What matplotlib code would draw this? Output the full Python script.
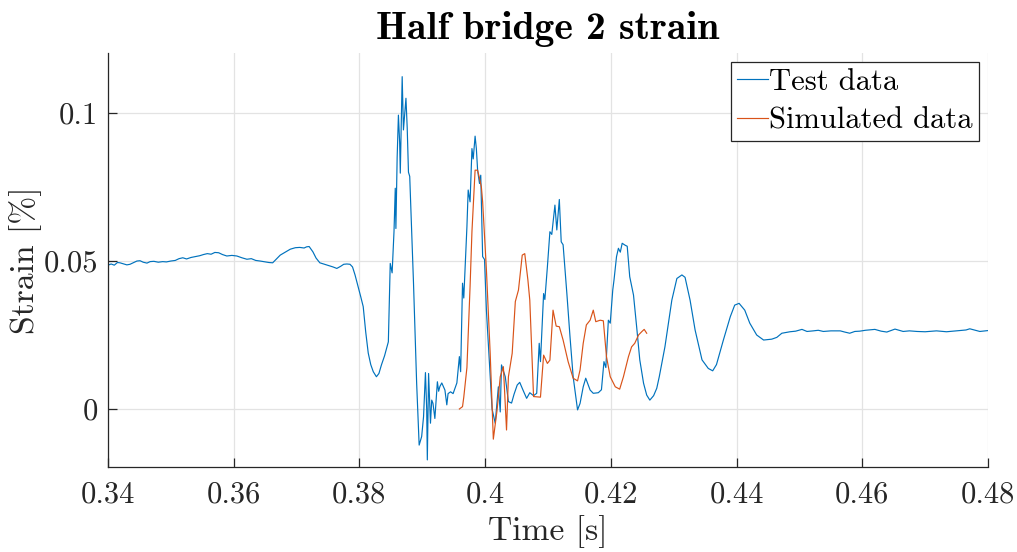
import matplotlib
matplotlib.use("Agg")
import matplotlib.pyplot as plt

# Measured strain from half bridge 2 (time [s], strain [%])
test_time = [
    0.3400, 0.3405, 0.3410, 0.3415, 0.3419, 0.3425, 0.3430, 0.3435, 0.3440, 0.3446,
    0.3451, 0.3456, 0.3462, 0.3467, 0.3473, 0.3480, 0.3487, 0.3493, 0.3500, 0.3507,
    0.3513, 0.3519, 0.3525, 0.3532, 0.3539, 0.3546, 0.3552, 0.3558, 0.3564, 0.3570,
    0.3576, 0.3582, 0.3589, 0.3597, 0.3605, 0.3613, 0.3621, 0.3628, 0.3635, 0.3642,
    0.3650, 0.3656, 0.3662, 0.3667, 0.3674, 0.3682, 0.3690, 0.3698, 0.3705, 0.3712,
    0.3716, 0.3720, 0.3723, 0.3726, 0.3731, 0.3737, 0.3743, 0.3748, 0.3753, 0.3758,
    0.3764, 0.3770, 0.3775, 0.3780, 0.3785, 0.3789, 0.3793, 0.3798, 0.3802, 0.3806,
    0.3810, 0.3814, 0.3818, 0.3822, 0.3827, 0.3831, 0.3835, 0.3840, 0.3846, 0.3849,
    0.3852, 0.3855, 0.3857, 0.3858, 0.3860, 0.3862, 0.3864, 0.3865, 0.3868, 0.3870,
    0.3874, 0.3876, 0.3878, 0.3880, 0.3886, 0.3891, 0.3895, 0.3899, 0.3902, 0.3905,
    0.3907, 0.3908, 0.3910, 0.3913, 0.3915, 0.3917, 0.3920, 0.3924, 0.3926, 0.3928,
    0.3931, 0.3936, 0.3939, 0.3941, 0.3945, 0.3949, 0.3955, 0.3959, 0.3961, 0.3964,
    0.3966, 0.3971, 0.3973, 0.3976, 0.3979, 0.3981, 0.3984, 0.3986, 0.3988, 0.3991,
    0.3993, 0.3996, 0.3999, 0.4002, 0.4008, 0.4011, 0.4016, 0.4021, 0.4024, 0.4026,
    0.4032, 0.4037, 0.4042, 0.4046, 0.4051, 0.4055, 0.4061, 0.4066, 0.4071, 0.4077,
    0.4082, 0.4086, 0.4088, 0.4093, 0.4095, 0.4099, 0.4103, 0.4106, 0.4108, 0.4111,
    0.4114, 0.4118, 0.4121, 0.4124, 0.4130, 0.4135, 0.4140, 0.4147, 0.4151, 0.4156,
    0.4160, 0.4167, 0.4172, 0.4180, 0.4185, 0.4189, 0.4192, 0.4196, 0.4199, 0.4203,
    0.4205, 0.4209, 0.4212, 0.4215, 0.4218, 0.4223, 0.4226, 0.4230, 0.4236, 0.4241,
    0.4246, 0.4252, 0.4257, 0.4262, 0.4268, 0.4273, 0.4277, 0.4286, 0.4297, 0.4305,
    0.4313, 0.4318, 0.4326, 0.4334, 0.4345, 0.4355, 0.4362, 0.4368, 0.4379, 0.4390,
    0.4397, 0.4404, 0.4413, 0.4421, 0.4432, 0.4443, 0.4456, 0.4464, 0.4472, 0.4485,
    0.4494, 0.4504, 0.4512, 0.4522, 0.4530, 0.4538, 0.4550, 0.4565, 0.4572, 0.4580,
    0.4588, 0.4596, 0.4605, 0.4620, 0.4630, 0.4639, 0.4652, 0.4665, 0.4675, 0.4687,
    0.4700, 0.4718, 0.4734, 0.4745, 0.4755, 0.4765, 0.4771, 0.4780, 0.4787, 0.4795,
    0.4800,
]
test_strain = [
    0.0486, 0.0490, 0.0486, 0.0495, 0.0494, 0.0490, 0.0487, 0.0489, 0.0494, 0.0500,
    0.0501, 0.0496, 0.0493, 0.0498, 0.0499, 0.0496, 0.0498, 0.0497, 0.0500, 0.0502,
    0.0508, 0.0511, 0.0507, 0.0512, 0.0515, 0.0518, 0.0522, 0.0525, 0.0523, 0.0529,
    0.0528, 0.0522, 0.0517, 0.0519, 0.0517, 0.0511, 0.0506, 0.0508, 0.0502, 0.0500,
    0.0497, 0.0495, 0.0494, 0.0505, 0.0520, 0.0530, 0.0540, 0.0545, 0.0546, 0.0544,
    0.0548, 0.0549, 0.0540, 0.0531, 0.0510, 0.0494, 0.0490, 0.0487, 0.0483, 0.0480,
    0.0475, 0.0482, 0.0489, 0.0490, 0.0489, 0.0480, 0.0453, 0.0413, 0.0380, 0.0346,
    0.0260, 0.0189, 0.0150, 0.0126, 0.0109, 0.0120, 0.0149, 0.0180, 0.0227, 0.0492,
    0.0460, 0.0600, 0.0746, 0.0610, 0.0850, 0.0993, 0.0900, 0.0797, 0.1123, 0.0943,
    0.1050, 0.0950, 0.0800, 0.0786, 0.0426, 0.0088, -0.0122, -0.0093, -0.0026, 0.0123,
    0.0000, -0.0172, 0.0120, -0.0048, 0.0030, 0.0019, -0.0032, 0.0092, 0.0060, 0.0076,
    0.0088, 0.0064, 0.0014, 0.0052, 0.0058, 0.0052, 0.0088, 0.0177, 0.0126, 0.0425,
    0.0375, 0.0616, 0.0740, 0.0700, 0.0880, 0.0845, 0.0922, 0.0880, 0.0807, 0.0762,
    0.0790, 0.0515, 0.0505, 0.0334, 0.0110, 0.0000, -0.0048, 0.0075, -0.0010, 0.0149,
    0.0109, 0.0025, 0.0020, 0.0050, 0.0081, 0.0090, 0.0060, 0.0036, 0.0055, 0.0045,
    0.0053, 0.0222, 0.0160, 0.0390, 0.0370, 0.0480, 0.0599, 0.0590, 0.0631, 0.0689,
    0.0605, 0.0708, 0.0565, 0.0555, 0.0390, 0.0244, 0.0109, -0.0003, 0.0019, 0.0075,
    0.0104, 0.0064, 0.0053, 0.0055, 0.0065, 0.0160, 0.0140, 0.0300, 0.0290, 0.0402,
    0.0436, 0.0515, 0.0543, 0.0530, 0.0560, 0.0553, 0.0550, 0.0447, 0.0385, 0.0278,
    0.0166, 0.0087, 0.0047, 0.0030, 0.0045, 0.0070, 0.0109, 0.0210, 0.0368, 0.0441,
    0.0453, 0.0445, 0.0368, 0.0267, 0.0166, 0.0137, 0.0129, 0.0150, 0.0233, 0.0312,
    0.0351, 0.0357, 0.0334, 0.0290, 0.0250, 0.0233, 0.0236, 0.0242, 0.0256, 0.0261,
    0.0263, 0.0269, 0.0262, 0.0264, 0.0266, 0.0262, 0.0264, 0.0264, 0.0260, 0.0256,
    0.0262, 0.0263, 0.0266, 0.0269, 0.0263, 0.0260, 0.0270, 0.0262, 0.0264, 0.0262,
    0.0261, 0.0264, 0.0261, 0.0263, 0.0265, 0.0267, 0.0271, 0.0266, 0.0262, 0.0264,
    0.0265,
]

# Simulated strain (time [s], strain [%])
sim_time = [
    0.3959, 0.3964, 0.3966, 0.3971, 0.3976, 0.3979, 0.3984, 0.3988, 0.3991, 0.3994,
    0.3996, 0.4002, 0.4008, 0.4013, 0.4019, 0.4024, 0.4029, 0.4034, 0.4037, 0.4043,
    0.4048, 0.4053, 0.4059, 0.4063, 0.4068, 0.4071, 0.4077, 0.4088, 0.4093, 0.4099,
    0.4103, 0.4108, 0.4113, 0.4118, 0.4124, 0.4132, 0.4140, 0.4147, 0.4151, 0.4156,
    0.4161, 0.4167, 0.4172, 0.4176, 0.4183, 0.4188, 0.4193, 0.4199, 0.4207, 0.4214,
    0.4220, 0.4228, 0.4233, 0.4238, 0.4244, 0.4249, 0.4253, 0.4257,
]
sim_strain = [
    0.0000, 0.0008, 0.0040, 0.0140, 0.0413, 0.0600, 0.0807, 0.0807, 0.0780, 0.0750,
    0.0700, 0.0470, 0.0188, -0.0102, -0.0003, 0.0109, 0.0143, -0.0071, 0.0109, 0.0188,
    0.0363, 0.0402, 0.0520, 0.0525, 0.0436, 0.0368, 0.0042, 0.0040, 0.0182, 0.0154,
    0.0165, 0.0334, 0.0280, 0.0278, 0.0233, 0.0160, 0.0104, 0.0095, 0.0132, 0.0222,
    0.0284, 0.0300, 0.0334, 0.0295, 0.0300, 0.0298, 0.0177, 0.0109, 0.0075, 0.0067,
    0.0109, 0.0177, 0.0210, 0.0222, 0.0250, 0.0261, 0.0269, 0.0256,
]

x_ticks = [0.34, 0.36, 0.38, 0.40, 0.42, 0.44, 0.46, 0.48]
x_tick_labels = ["0.34", "0.36", "0.38", "0.4", "0.42", "0.44", "0.46", "0.48"]
y_ticks = [0.0, 0.05, 0.1]
y_tick_labels = ["0", "0.05", "0.1"]

plt.rcParams["font.family"] = "serif"
plt.rcParams["font.serif"] = ["cmr10"]
plt.rcParams["mathtext.fontset"] = "cm"
plt.rcParams["axes.formatter.use_mathtext"] = True

fig = plt.figure(figsize=(10.17, 5.52), dpi=100)
ax = fig.add_axes([0.1062, 0.154, 0.8653, 0.750])

ax.plot(test_time, test_strain, color="#0072BD", lw=0.85, label="Test data")
ax.plot(sim_time, sim_strain, color="#D95319", lw=0.85, label="Simulated data")

ax.set_xlim(0.34, 0.48)
ax.set_ylim(-0.0196, 0.1203)
ax.set_xticks(x_ticks)
ax.set_xticklabels(x_tick_labels)
ax.set_yticks(y_ticks)
ax.set_yticklabels(y_tick_labels)

ax.grid(True, color="#e3e3e3", lw=0.9)
ax.set_axisbelow(True)
for side in ("top", "right"):
    ax.spines[side].set_visible(False)
for side in ("left", "bottom"):
    ax.spines[side].set_color("#262626")
    ax.spines[side].set_linewidth(0.9)

ax.tick_params(direction="in", length=6.5, width=0.9, color="#262626",
               labelsize=22, labelcolor="#262626")
ax.tick_params(axis="y", pad=7)
ax.tick_params(axis="x", pad=10)

ax.set_xlabel("Time [s]", fontsize=24.2, color="#262626", labelpad=5)
ax.set_ylabel("Strain [%]", fontsize=24.2, color="#262626", labelpad=1)
ax.set_title("Half bridge 2 strain", fontsize=28.5, family="cmb10", pad=10)

leg = ax.legend(loc="upper right", fontsize=22, handlelength=1.0,
                handletextpad=0.05, borderpad=0.2, labelspacing=0.38,
                borderaxespad=0.3, fancybox=False, framealpha=1.0)
leg.get_frame().set_edgecolor("#262626")
leg.get_frame().set_linewidth(0.9)

fig.savefig("out.png", dpi=100)
